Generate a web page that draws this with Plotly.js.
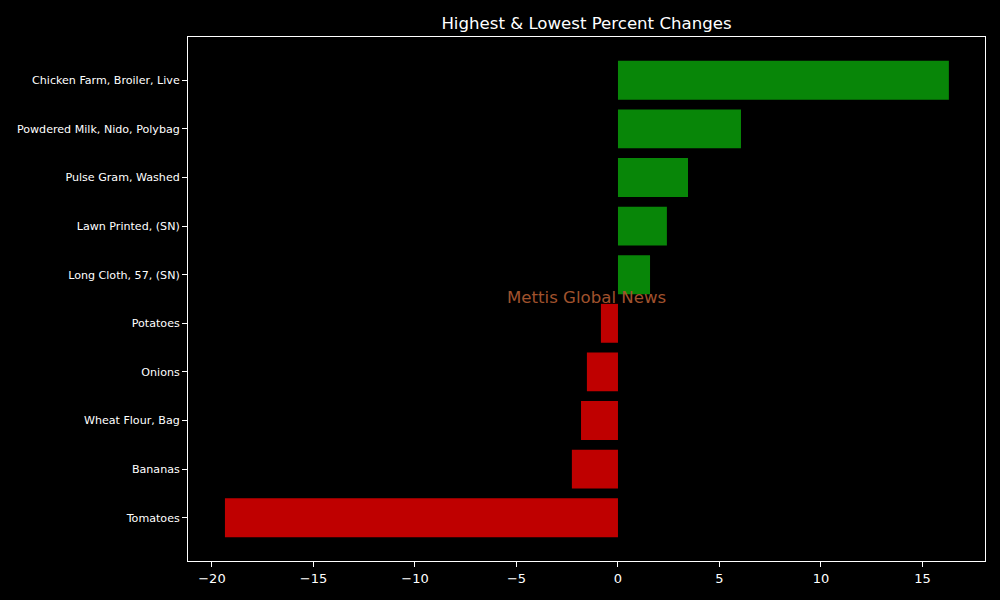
<!DOCTYPE html>
<html><head><meta charset="utf-8">
<script src="https://cdn.plot.ly/plotly-3.0.1.min.js"></script>
<style>html,body{margin:0;padding:0;background:#000;}</style>
</head><body><div id="chart" style="width:1000px;height:600px;"></div>
<script>
const categories = ["Tomatoes","Bananas","Wheat Flour, Bag","Onions","Potatoes","Long Cloth, 57, (SN)","Lawn Printed, (SN)","Pulse Gram, Washed","Powdered Milk, Nido, Polybag","Chicken Farm, Broiler, Live"];
const changes = [-19.36,-2.27,-1.82,-1.53,-0.84,1.58,2.41,3.45,6.06,16.3];
const xTicks = [-20,-15,-10,-5,0,5,10,15];
const colors = changes.map(v => v >= 0 ? "rgb(8,134,8)" : "rgb(191,0,0)");
const idx = categories.map((c,i)=>i);
const font = "DejaVu Sans, sans-serif";
Plotly.newPlot("chart", [{
  type: "bar", orientation: "h", x: changes, y: idx, width: 0.8,
  marker: {color: colors, line: {width: 0}}, hoverinfo: "none"
}], {
  width: 1000, height: 600,
  paper_bgcolor: "#000", plot_bgcolor: "#000",
  margin: {l: 188, r: 15, t: 37, b: 39},
  title: {text: "Highest &amp; Lowest Percent Changes", font: {family: font, size: 16.6, color: "#fff"}, x: 0.5865, xanchor: "center", y: 1 - 23/600, yanchor: "middle"},
  xaxis: {range: [-21.18, 18.08], tickvals: xTicks, ticktext: xTicks.map(v => v < 0 ? "\u2212" + Math.abs(v) : String(v)),
    showgrid: false, zeroline: false, showline: true, mirror: true, linecolor: "#fff", linewidth: 1,
    ticks: "outside", ticklen: 5, tickcolor: "#fff", tickfont: {family: font, size: 13, color: "#fff"}},
  yaxis: {range: [-0.89, 9.89], tickvals: idx, ticktext: categories,
    showgrid: false, zeroline: false, showline: true, mirror: true, linecolor: "#fff", linewidth: 1,
    ticks: "outside", ticklen: 5, tickcolor: "#fff", tickfont: {family: font, size: 11.1, color: "#fff"}},
  annotations: [{xref: "paper", yref: "paper", x: 0.5, y: 0.502, text: "Mettis Global News", showarrow: false,
    font: {family: font, size: 16.6, color: "rgb(160,82,45)"}, xanchor: "center", yanchor: "middle"}],
  showlegend: false
}, {staticPlot: true});
</script></body></html>
